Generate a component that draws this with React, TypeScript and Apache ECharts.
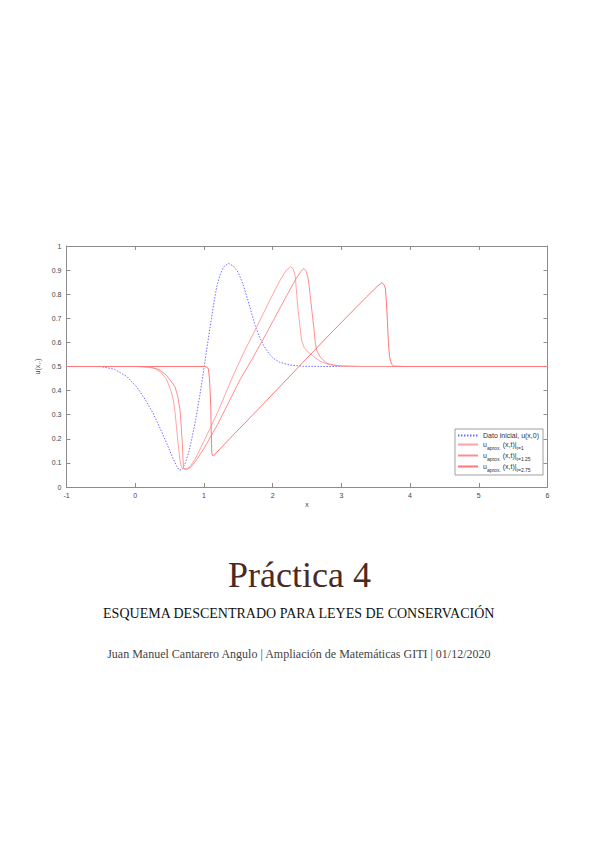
import React, { useEffect, useRef } from "react";
import * as echarts from "echarts";

// ---- data ----
const initialData: [number, number][] = [
  [-1, 0.5], [-0.5, 0.5], [-0.3, 0.488], [-0.12, 0.458], [0.02, 0.416], [0.14, 0.365],
  [0.26, 0.306], [0.36, 0.245], [0.46, 0.18], [0.54, 0.125], [0.6, 0.088], [0.64, 0.07],
  [0.68, 0.072], [0.73, 0.1], [0.78, 0.145], [0.82, 0.195], [0.88, 0.28], [0.94, 0.38],
  [0.99, 0.472], [1.04, 0.57], [1.09, 0.665], [1.14, 0.755], [1.186, 0.831], [1.234, 0.88],
  [1.283, 0.912], [1.355, 0.928], [1.43, 0.917], [1.5, 0.89], [1.57, 0.84], [1.64, 0.775],
  [1.7, 0.715], [1.745, 0.67], [1.8, 0.628], [1.865, 0.589], [1.94, 0.556], [2.01, 0.534],
  [2.1, 0.518], [2.25, 0.506], [2.45, 0.501], [2.7, 0.5], [6, 0.5],
];

const approxT1: [number, number][] = [
  [-1, 0.5], [0.0, 0.5], [0.2, 0.497], [0.3, 0.49], [0.38, 0.475], [0.46, 0.444],
  [0.52, 0.4], [0.555, 0.361], [0.58, 0.31], [0.6, 0.25], [0.625, 0.18], [0.65, 0.112],
  [0.67, 0.085], [0.69, 0.076], [0.74, 0.074], [0.8, 0.085], [0.88, 0.12], [1.0, 0.19],
  [1.2, 0.31], [1.43, 0.465], [1.6, 0.57], [1.77, 0.665], [1.95, 0.77], [2.11, 0.859],
  [2.2, 0.9], [2.26, 0.914], [2.3, 0.905], [2.33, 0.873], [2.35, 0.8], [2.37, 0.734],
  [2.4, 0.66], [2.42, 0.61], [2.46, 0.578], [2.5, 0.565], [2.6, 0.54], [2.69, 0.522],
  [2.8, 0.51], [2.98, 0.502], [3.3, 0.5], [6, 0.5],
];

const approxT125: [number, number][] = [
  [-1, 0.5], [0.1, 0.5], [0.25, 0.496], [0.361, 0.485], [0.45, 0.465], [0.52, 0.44],
  [0.579, 0.416], [0.62, 0.375], [0.652, 0.32], [0.67, 0.25], [0.686, 0.18], [0.695, 0.12],
  [0.7, 0.085], [0.715, 0.074], [0.76, 0.074], [0.82, 0.085], [0.91, 0.12], [1.0, 0.16],
  [1.2, 0.26], [1.525, 0.445], [1.7, 0.53], [1.91, 0.638], [2.12, 0.75], [2.33, 0.859],
  [2.41, 0.895], [2.457, 0.907], [2.49, 0.895], [2.52, 0.859], [2.545, 0.8], [2.57, 0.734],
  [2.6, 0.66], [2.62, 0.6], [2.64, 0.568], [2.69, 0.54], [2.79, 0.513], [2.88, 0.506],
  [3.0, 0.502], [3.3, 0.5], [6, 0.5],
];

const approxT275: [number, number][] = [
  [-1, 0.5], [1.0, 0.5], [1.04, 0.498], [1.065, 0.49], [1.08, 0.45], [1.09, 0.4],
  [1.1, 0.33], [1.105, 0.25], [1.11, 0.18], [1.115, 0.14], [1.125, 0.13], [1.15, 0.133],
  [1.38, 0.202], [1.9, 0.355], [2.4, 0.505], [2.88, 0.648], [3.37, 0.79], [3.52, 0.832],
  [3.59, 0.848], [3.62, 0.84], [3.64, 0.825], [3.655, 0.77], [3.67, 0.69], [3.685, 0.6],
  [3.7, 0.541], [3.73, 0.51], [3.76, 0.502], [3.9, 0.5], [6, 0.5],
];

const seriesNames = ["Dato inicial, u(x,0)", "t=1", "t=1.25", "t=2.75"];
const seriesColors = ["#6f6fff", "#ffa4a4", "#ff8e8e", "#ff7878"];

const titleText = "Práctica 4";
const subtitleText = "ESQUEMA DESCENTRADO PARA LEYES DE CONSERVACIÓN";
const authorText =
  "Juan Manuel Cantarero Angulo | Ampliación de Matemáticas GITI | 01/12/2020";

export default function App() {
  const ref = useRef<HTMLDivElement>(null);

  useEffect(() => {
    if (!ref.current) return;
    const chart = echarts.init(ref.current, undefined, { renderer: "svg" });

    const axisGray = "#8c8c8c";
    const labelStyle = {
      fontSize: 7,
      color: "#444",
      fontFamily: "Liberation Sans",
    };
    const seriesData = [initialData, approxT1, approxT125, approxT275];

    chart.setOption({
      animation: false,
      backgroundColor: "#fff",
      grid: { left: 66.5, top: 246, right: 51.5, bottom: 361 },
      legend: {
        data: seriesNames,
        orient: "vertical",
        left: 455,
        top: 429,
        backgroundColor: "#fff",
        borderColor: "#888",
        borderWidth: 0.8,
        borderRadius: 0,
        padding: [3, 4, 3, 2],
        itemGap: 2,
        itemWidth: 20,
        itemHeight: 8,
        itemStyle: { opacity: 0 },
        textStyle: {
          fontSize: 7,
          color: "#333",
          fontFamily: "Liberation Sans",
          rich: {
            a: { fontSize: 7, lineHeight: 11, verticalAlign: "middle", color: "#333", fontFamily: "Liberation Sans" },
            s: { fontSize: 5, lineHeight: 5, verticalAlign: "bottom", color: "#333", fontFamily: "Liberation Sans" },
          },
        },
        formatter: (name: string) => {
          if (name === seriesNames[0]) return "{a|" + name + "}";
          return "{a|u}{s|aprox.}{a| (x,t)|}{s|" + name + "}";
        },
      },
      xAxis: [
        {
          type: "value",
          min: -1,
          max: 6,
          interval: 1,
          name: "x",
          nameLocation: "middle",
          nameGap: 14,
          nameTextStyle: { ...labelStyle },
          axisLine: { onZero: false, lineStyle: { color: axisGray, width: 1 } },
          axisTick: { inside: true, length: 4, lineStyle: { color: axisGray } },
          axisLabel: { ...labelStyle, margin: 5, formatter: (v: number) => String(v) },
          splitLine: { show: false },
        },
        {
          type: "value",
          position: "top",
          min: -1,
          max: 6,
          interval: 1,
          axisLine: { onZero: false, lineStyle: { color: axisGray, width: 1 } },
          axisTick: { inside: true, length: 4, lineStyle: { color: axisGray } },
          axisLabel: { show: false },
          splitLine: { show: false },
        },
      ],
      yAxis: [
        {
          type: "value",
          min: 0,
          max: 1,
          interval: 0.1,
          name: "u(x,.)",
          nameLocation: "middle",
          nameGap: 16,
          nameRotate: 90,
          nameTextStyle: { ...labelStyle },
          axisLine: { show: true, onZero: false, lineStyle: { color: axisGray, width: 1 } },
          axisTick: { show: true, inside: true, length: 4, lineStyle: { color: axisGray } },
          axisLabel: {
            ...labelStyle,
            margin: 5,
            formatter: (v: number) => String(Math.round(v * 10) / 10),
          },
          splitLine: { show: false },
        },
        {
          type: "value",
          position: "right",
          min: 0,
          max: 1,
          interval: 0.1,
          axisLine: { show: true, onZero: false, lineStyle: { color: axisGray, width: 1 } },
          axisTick: { show: true, inside: true, length: 4, lineStyle: { color: axisGray } },
          axisLabel: { show: false },
          splitLine: { show: false },
        },
      ],
      series: seriesNames.map((name, i) => ({
        name,
        type: "line",
        data: seriesData[i],
        symbol: "none",
        showSymbol: false,
        smooth: false,
        xAxisIndex: 0,
        yAxisIndex: 0,
        itemStyle: { color: seriesColors[i] },
        lineStyle: {
          color: seriesColors[i],
          width: 1,
          type: i === 0 ? [1.5, 1.5] : "solid",
        },
        z: 2 + i,
      })),
      graphic: [
        {
          type: "text",
          left: "center",
          top: 557,
          style: { text: titleText, fontSize: 36, fontFamily: "Liberation Serif", fill: "#4a2a22" },
        },
        {
          type: "text",
          left: "center",
          top: 606,
          style: { text: subtitleText, fontSize: 14, fontFamily: "Liberation Serif", fill: "#111" },
        },
        {
          type: "text",
          left: "center",
          top: 648,
          style: { text: authorText, fontSize: 12, fontFamily: "Liberation Serif", fill: "#444" },
        },
      ],
    });

    return () => chart.dispose();
  }, []);

  return (
    <div
      ref={ref}
      style={{ position: "absolute", left: 0, top: 0, width: 599, height: 848, background: "#fff" }}
    />
  );
}
